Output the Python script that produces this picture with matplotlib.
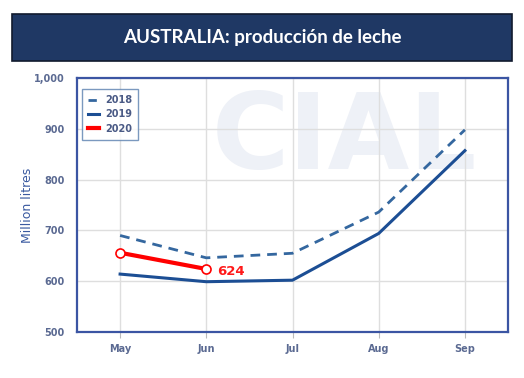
import matplotlib.pyplot as plt
from matplotlib.patches import Rectangle
from matplotlib.lines import Line2D

months = ["May", "Jun", "Jul", "Aug", "Sep"]
prod_2018 = [690, 646, 655, 736, 898]
prod_2019 = [614, 599, 602, 694, 857]
prod_2020 = [656, 624]

fig = plt.figure(figsize=(5.24, 3.78), dpi=100)
fig.patch.set_facecolor("white")

# title banner
banner = Rectangle((12 / 524, 1 - 61 / 378), 500 / 524, 47 / 378, transform=fig.transFigure,
                   facecolor="#1f3864", edgecolor="#111a2e", lw=1.2)
fig.patches.append(banner)
fig.text(0.5, 1 - 37 / 378, "AUSTRALIA: producción de leche", ha="center", va="center",
         color="white", fontsize=13.5, fontweight="bold", family="Lato")

ax = fig.add_axes([77 / 524, 1 - 332 / 378, 431 / 524, 254 / 378])
x = list(range(len(months)))

# watermark
ax.text(2.6, 878, "CIAL", ha="center", va="center", fontsize=76, fontweight="heavy",
        color="#eef1f7", family="DejaVu Sans", zorder=0)

ax.plot(x, prod_2018, color="#34679f", lw=2, ls=(0, (3.5, 2.5)), zorder=3)
ax.plot(x, prod_2019, color="#1c4e94", lw=2.2, zorder=3)
ax.plot(x[:len(prod_2020)], prod_2020, color="#ff0000", lw=3, marker="o", ms=6.5,
        mfc="white", mec="#ff0000", mew=1.2, zorder=4)
ax.text(1.13, prod_2020[-1] - 4, str(prod_2020[-1]), color="#ff1a1a", fontsize=9.5,
        fontweight="bold", va="center", ha="left")

ax.set_xlim(-0.5, 4.5)
ax.set_ylim(500, 1000)
ax.set_xticks(x)
ax.set_xticklabels(months)
ax.set_yticks([500, 600, 700, 800, 900, 1000])
ax.set_yticklabels(["500", "600", "700", "800", "900", "1,000"])
ax.grid(True, color="#dedede", lw=1)
ax.set_axisbelow(True)
for s in ax.spines.values():
    s.set_color("#3b55a3")
    s.set_linewidth(1.6)
ax.tick_params(axis="both", colors="#bbbbbb", labelcolor="#5b6a92", labelsize=7)
ax.tick_params(axis="x", length=4, pad=5)
ax.tick_params(axis="y", length=0, pad=9)
for lbl in ax.get_xticklabels() + ax.get_yticklabels():
    lbl.set_fontweight("bold")
ax.set_ylabel("Million litres", color="#3a5aa0", fontsize=9, fontweight="medium")
ax.yaxis.set_label_coords(-0.1, 0.5)

handles = [
    Line2D([], [], color="#34679f", lw=2, ls=(0, (3, 2))),
    Line2D([], [], color="#1c4e94", lw=2.2),
    Line2D([], [], color="#ff0000", lw=3),
]
leg = ax.legend(handles, ["2018", "2019", "2020"], loc="upper left",
                bbox_to_anchor=(0.0, 0.975), fontsize=7, handlelength=1.2,
                frameon=True, fancybox=False, borderpad=0.6, labelspacing=0.45,
                handletextpad=0.6)
leg.get_frame().set_edgecolor("#5a80b0")
leg.get_frame().set_linewidth(1)
for t in leg.get_texts():
    t.set_color("#4a5a85")
    t.set_fontweight("bold")

plt.savefig("out.png", dpi=100)
plt.close()
